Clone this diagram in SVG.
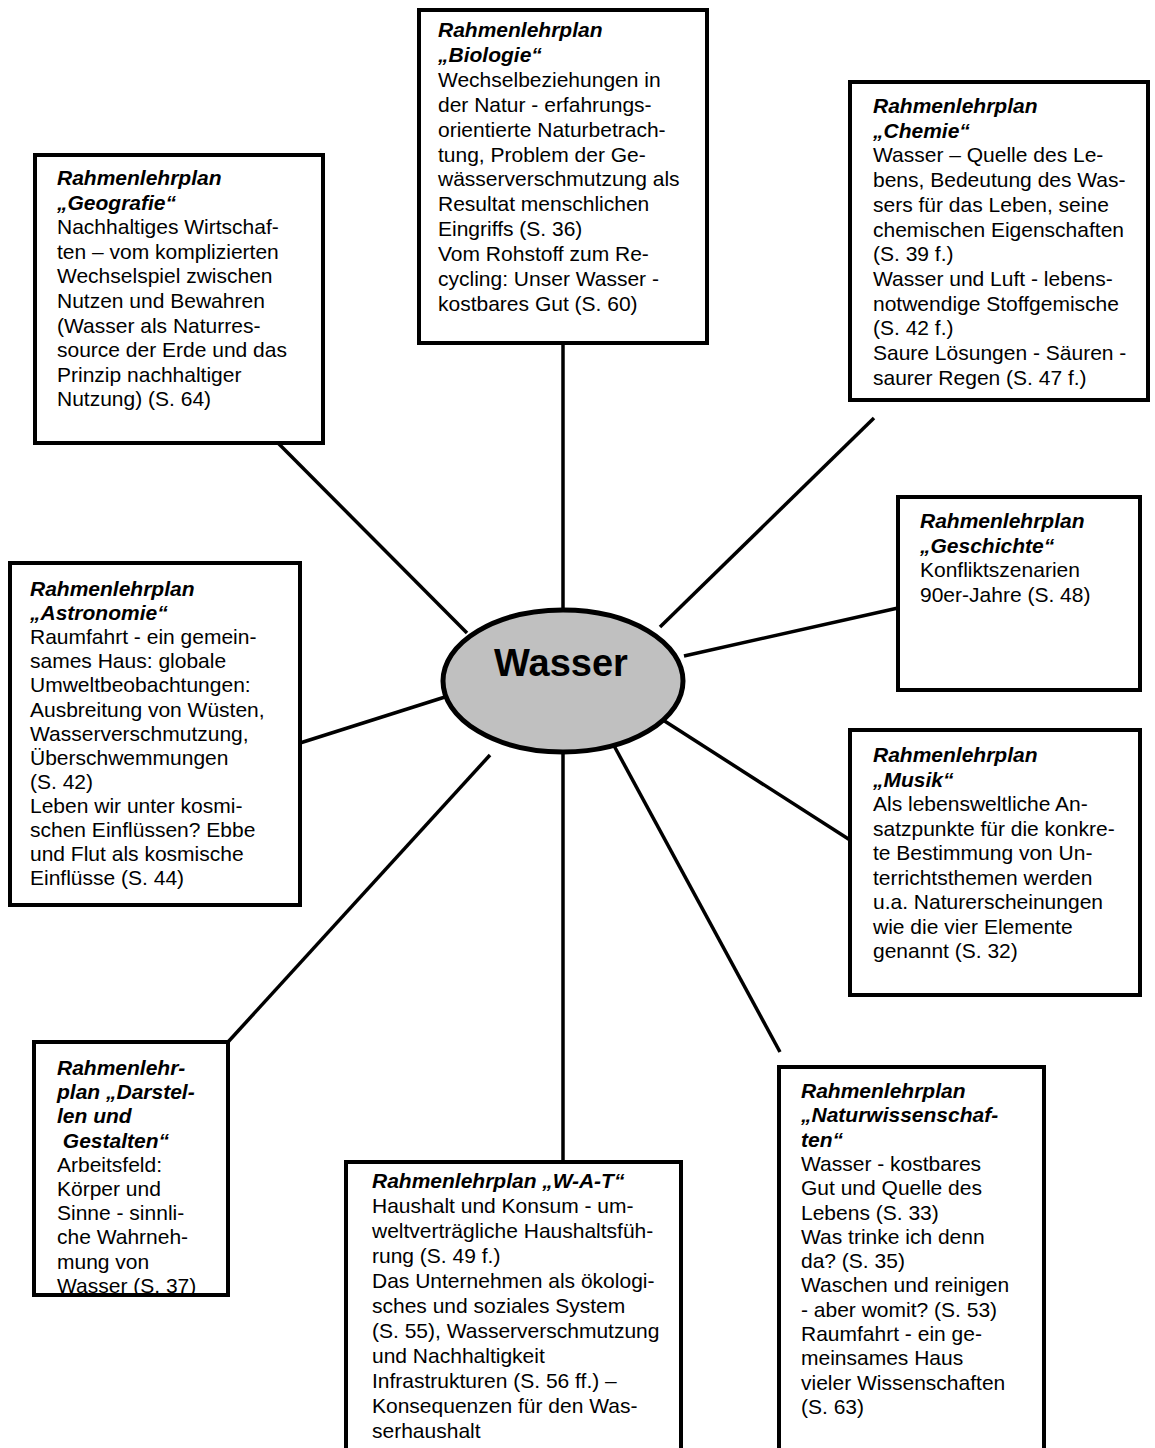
<svg xmlns="http://www.w3.org/2000/svg" width="1155" height="1448" viewBox="0 0 1155 1448">
<style>
.box{fill:#fff;stroke:#000;stroke-width:4}
.t{font-family:"Liberation Sans",Arial,sans-serif;font-size:21px;fill:#000}
.h{font-weight:bold;font-style:italic}
.c line{stroke:#000;stroke-width:3.5}
</style>
<rect width="1155" height="1448" fill="#fff"/>
<g id="connectors" class="c">
<line x1="278" y1="443" x2="467" y2="633"/>
<line x1="563" y1="343" x2="563" y2="612"/>
<line x1="874" y1="418" x2="660" y2="627"/>
<line x1="684" y1="656" x2="898" y2="608"/>
<line x1="663" y1="720" x2="850" y2="840"/>
<line x1="612" y1="742" x2="780" y2="1052"/>
<line x1="563" y1="750" x2="563" y2="1162"/>
<line x1="490" y1="755" x2="228" y2="1042"/>
<line x1="300" y1="743" x2="445" y2="697"/>
</g>
<g id="geografie">
<rect class="box" x="35" y="155" width="288" height="288"/>
<text class="t" x="57" y="185"><tspan class="h">Rahmenlehrplan</tspan><tspan class="h" x="57" dy="24.6">„Geografie“</tspan><tspan x="57" dy="24.6">Nachhaltiges Wirtschaf-</tspan><tspan x="57" dy="24.6">ten – vom komplizierten</tspan><tspan x="57" dy="24.6">Wechselspiel zwischen</tspan><tspan x="57" dy="24.6">Nutzen und Bewahren</tspan><tspan x="57" dy="24.6">(Wasser als Naturres-</tspan><tspan x="57" dy="24.6">source der Erde und das</tspan><tspan x="57" dy="24.6">Prinzip nachhaltiger</tspan><tspan x="57" dy="24.6">Nutzung) (S. 64)</tspan></text>
</g>
<g id="biologie">
<rect class="box" x="419" y="10" width="288" height="333"/>
<text class="t" x="438" y="37"><tspan class="h">Rahmenlehrplan</tspan><tspan class="h" x="438" dy="24.9">„Biologie“</tspan><tspan x="438" dy="24.9">Wechselbeziehungen in</tspan><tspan x="438" dy="24.9">der Natur - erfahrungs-</tspan><tspan x="438" dy="24.9">orientierte Naturbetrach-</tspan><tspan x="438" dy="24.9">tung, Problem der Ge-</tspan><tspan x="438" dy="24.9">wässerverschmutzung als</tspan><tspan x="438" dy="24.9">Resultat menschlichen</tspan><tspan x="438" dy="24.9">Eingriffs (S. 36)</tspan><tspan x="438" dy="24.9">Vom Rohstoff zum Re-</tspan><tspan x="438" dy="24.9">cycling: Unser Wasser -</tspan><tspan x="438" dy="24.9">kostbares Gut (S. 60)</tspan></text>
</g>
<g id="chemie">
<rect class="box" x="850" y="82" width="298" height="318"/>
<text class="t" x="873" y="113"><tspan class="h">Rahmenlehrplan</tspan><tspan class="h" x="873" dy="24.7">„Chemie“</tspan><tspan x="873" dy="24.7">Wasser – Quelle des Le-</tspan><tspan x="873" dy="24.7">bens, Bedeutung des Was-</tspan><tspan x="873" dy="24.7">sers für das Leben, seine</tspan><tspan x="873" dy="24.7">chemischen Eigenschaften</tspan><tspan x="873" dy="24.7">(S. 39 f.)</tspan><tspan x="873" dy="24.7">Wasser und Luft - lebens-</tspan><tspan x="873" dy="24.7">notwendige Stoffgemische</tspan><tspan x="873" dy="24.7">(S. 42 f.)</tspan><tspan x="873" dy="24.7">Saure Lösungen - Säuren -</tspan><tspan x="873" dy="24.7">saurer Regen (S. 47 f.)</tspan></text>
</g>
<g id="astronomie">
<rect class="box" x="10" y="563" width="290" height="342"/>
<text class="t" x="30" y="596"><tspan class="h">Rahmenlehrplan</tspan><tspan class="h" x="30" dy="24.1">„Astronomie“</tspan><tspan x="30" dy="24.1">Raumfahrt - ein gemein-</tspan><tspan x="30" dy="24.1">sames Haus: globale</tspan><tspan x="30" dy="24.1">Umweltbeobachtungen:</tspan><tspan x="30" dy="24.1">Ausbreitung von Wüsten,</tspan><tspan x="30" dy="24.1">Wasserverschmutzung,</tspan><tspan x="30" dy="24.1">Überschwemmungen</tspan><tspan x="30" dy="24.1">(S. 42)</tspan><tspan x="30" dy="24.1">Leben wir unter kosmi-</tspan><tspan x="30" dy="24.1">schen Einflüssen? Ebbe</tspan><tspan x="30" dy="24.1">und Flut als kosmische</tspan><tspan x="30" dy="24.1">Einflüsse (S. 44)</tspan></text>
</g>
<g id="wasser">
<ellipse cx="563" cy="681" rx="120" ry="71" fill="#c0c0c0" stroke="#000" stroke-width="5"/>
<text x="561" y="676" text-anchor="middle" style="font-family:'Liberation Sans',Arial,sans-serif;font-size:38px;font-weight:bold">Wasser</text>
</g>
<g id="geschichte">
<rect class="box" x="898" y="497" width="242" height="193"/>
<text class="t" x="920" y="528"><tspan class="h">Rahmenlehrplan</tspan><tspan class="h" x="920" dy="24.6">„Geschichte“</tspan><tspan x="920" dy="24.6">Konfliktszenarien</tspan><tspan x="920" dy="24.6">90er-Jahre (S. 48)</tspan></text>
</g>
<g id="musik">
<rect class="box" x="850" y="730" width="290" height="265"/>
<text class="t" x="873" y="762"><tspan class="h">Rahmenlehrplan</tspan><tspan class="h" x="873" dy="24.5">„Musik“</tspan><tspan x="873" dy="24.5">Als lebensweltliche An-</tspan><tspan x="873" dy="24.5">satzpunkte für die konkre-</tspan><tspan x="873" dy="24.5">te Bestimmung von Un-</tspan><tspan x="873" dy="24.5">terrichtsthemen werden</tspan><tspan x="873" dy="24.5">u.a. Naturerscheinungen</tspan><tspan x="873" dy="24.5">wie die vier Elemente</tspan><tspan x="873" dy="24.5">genannt (S. 32)</tspan></text>
</g>
<g id="darstellen">
<rect class="box" x="34" y="1042" width="194" height="253"/>
<text class="t" x="57" y="1075"><tspan class="h">Rahmenlehr-</tspan><tspan class="h" x="57" dy="24.2">plan „Darstel-</tspan><tspan class="h" x="57" dy="24.2">len und</tspan><tspan class="h" x="57" dy="24.2"> Gestalten“</tspan><tspan x="57" dy="24.2">Arbeitsfeld:</tspan><tspan x="57" dy="24.2">Körper und</tspan><tspan x="57" dy="24.2">Sinne - sinnli-</tspan><tspan x="57" dy="24.2">che Wahrneh-</tspan><tspan x="57" dy="24.2">mung von</tspan><tspan x="57" dy="24.2">Wasser (S. 37)</tspan></text>
</g>
<g id="wat">
<rect class="box" x="346" y="1162" width="335" height="300"/>
<text class="t" x="372" y="1188"><tspan class="h">Rahmenlehrplan „W-A-T“</tspan><tspan x="372" dy="25">Haushalt und Konsum - um-</tspan><tspan x="372" dy="25">weltverträgliche Haushaltsfüh-</tspan><tspan x="372" dy="25">rung (S. 49 f.)</tspan><tspan x="372" dy="25">Das Unternehmen als ökologi-</tspan><tspan x="372" dy="25">sches und soziales System</tspan><tspan x="372" dy="25">(S. 55), Wasserverschmutzung</tspan><tspan x="372" dy="25">und Nachhaltigkeit</tspan><tspan x="372" dy="25">Infrastrukturen (S. 56 ff.) –</tspan><tspan x="372" dy="25">Konsequenzen für den Was-</tspan><tspan x="372" dy="25">serhaushalt</tspan></text>
</g>
<g id="naturwissenschaften">
<rect class="box" x="779" y="1067" width="265" height="400"/>
<text class="t" x="801" y="1098"><tspan class="h">Rahmenlehrplan</tspan><tspan class="h" x="801" dy="24.3">„Naturwissenschaf-</tspan><tspan class="h" x="801" dy="24.3">ten“</tspan><tspan x="801" dy="24.3">Wasser - kostbares</tspan><tspan x="801" dy="24.3">Gut und Quelle des</tspan><tspan x="801" dy="24.3">Lebens (S. 33)</tspan><tspan x="801" dy="24.3">Was trinke ich denn</tspan><tspan x="801" dy="24.3">da? (S. 35)</tspan><tspan x="801" dy="24.3">Waschen und reinigen</tspan><tspan x="801" dy="24.3">- aber womit? (S. 53)</tspan><tspan x="801" dy="24.3">Raumfahrt - ein ge-</tspan><tspan x="801" dy="24.3">meinsames Haus</tspan><tspan x="801" dy="24.3">vieler Wissenschaften</tspan><tspan x="801" dy="24.3">(S. 63)</tspan></text>
</g>
</svg>
